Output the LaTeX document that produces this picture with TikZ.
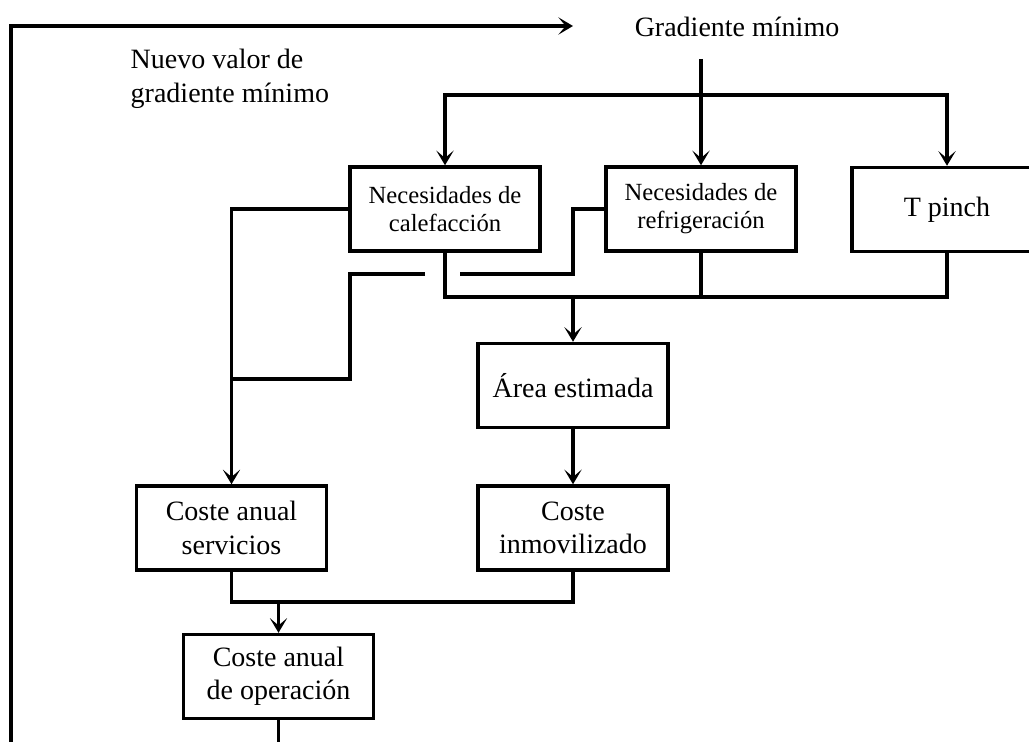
\documentclass[tikz,border=0pt]{standalone}
\usepackage{fontspec}
\setmainfont{Liberation Serif}
\usetikzlibrary{arrows.meta}
\begin{document}
\begin{tikzpicture}[x=0.75pt,y=-0.75pt,
  line width=2.6pt,
  conn/.style={line width=2.6pt},
  arr/.style={conn, -{Stealth[length=11pt,width=13pt,inset=5.5pt]}},
  box/.style={draw, line width=2.6pt, minimum width=142.5pt, minimum height=63pt, inner sep=2pt, align=center, font=\fontsize{21}{25}\selectfont},
  smallbox/.style={box, font=\fontsize{18.5}{21}\selectfont},
  lbl/.style={font=\fontsize{21}{25.5}\selectfont, inner sep=0pt}]
\useasboundingbox (0,0) rectangle (1029,742);
\clip (0,0) rectangle (1029,742);

% nodes
\node[smallbox] (heat) at (445,209) {Necesidades de\\calefacción};
\node[smallbox] (refr) at (701,209) {Necesidades de\\refrigeración};
\node[box] (tp) at (947,209.5) {T pinch};
\node[box] (area) at (573,385.5) {Área estimada};
\node[box] (serv) at (231.5,528) {Coste anual\\servicios};
\node[box] (inmo) at (573,528) {Coste\\inmovilizado};
\node[box] (oper) at (278.5,676.5) {Coste anual\\de operación};
\node[lbl] (grad) at (737,27) {Gradiente mínimo};
\node[lbl, align=left, anchor=west] (nuevo) at (129,79) {Nuevo valor de\\gradiente mínimo};

% gradient distribution
\coordinate (gtop) at (701,59);
\coordinate (bus) at (701,95);
\draw[arr] (gtop) -- (refr.north);
\draw[arr] (bus) -| (heat.north);
\draw[arr] (bus) -| (tp.north);

% outputs to area
\coordinate (obus) at (573,297);
\draw[conn] (heat.south) |- (obus) -| (tp.south);
\draw[conn] (refr.south) -- (refr.south |- obus);
\draw[arr] (obus) -- (area.north);

% heating to servicios
\draw[arr] (heat.west) -| (serv.north);

% refrigeration to servicios (with jump)
\coordinate (j1) at (573,274);
\coordinate (gapR) at (460,274);
\coordinate (gapL) at (425,274);
\coordinate (k1) at (350,274);
\coordinate (k2) at (350,379);
\coordinate (k3) at (231.5,379);
\draw[conn] (refr.west) -| (j1) -- (gapR);
\draw[conn] (gapL) -- (k1) -- (k2) -- (k3);

% area to inmovilizado
\draw[arr] (area.south) -- (inmo.north);

% costs to operacion
\coordinate (cb) at (278.5,602);
\draw[conn] (serv.south) |- (cb) -| (inmo.south);
\draw[arr] (cb) -- (oper.north);

% feedback loop
\coordinate (fb1) at (278.5,770);
\coordinate (fb2) at (11,770);
\coordinate (fb3) at (11,26);
\coordinate (fbend) at (573,26);
\draw[arr] (oper.south) -- (fb1) -- (fb2) -- (fb3) -- (fbend);
\end{tikzpicture}
\end{document}
